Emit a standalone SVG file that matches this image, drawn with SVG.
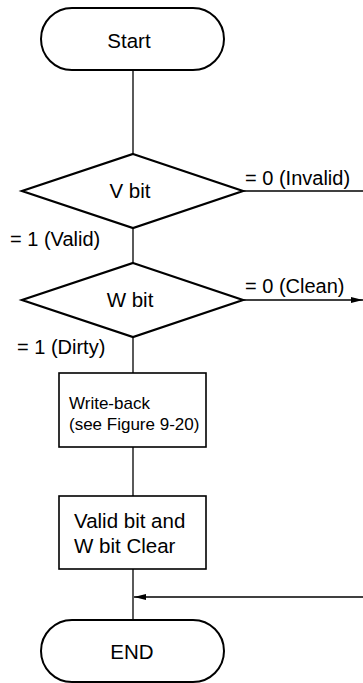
<svg xmlns="http://www.w3.org/2000/svg" width="363" height="683" viewBox="0 0 363 683">
<style>
text{font-family:"Liberation Sans",Arial,sans-serif;font-size:20.5px;fill:#000}
.c{text-anchor:middle}
.lb{font-size:20px}
.sm{font-size:17px}
.term{fill:#fff;stroke:#000;stroke-width:2}
.dia{fill:#fff;stroke:#000;stroke-width:2.2;stroke-linejoin:miter}
.box{fill:#fff;stroke:#000;stroke-width:1.6}
.ln{stroke:#000;stroke-width:1.3;fill:none}
</style>
<defs>
<marker id="ah" viewBox="0 0 12 6" refX="12" refY="3" markerWidth="12" markerHeight="6" markerUnits="userSpaceOnUse" orient="auto">
<path d="M0,0 L12,3 L0,6 Z" fill="#000"/>
</marker>
</defs>
<g id="connectors">
<line class="ln" x1="133" y1="70" x2="133" y2="154"/>
<line class="ln" x1="243" y1="191" x2="363" y2="191"/>
<line class="ln" x1="133" y1="228" x2="133" y2="263"/>
<line class="ln" x1="243" y1="300" x2="363" y2="300" marker-end="url(#ah)"/>
<line class="ln" x1="133" y1="337" x2="133" y2="373"/>
<line class="ln" x1="133" y1="447" x2="133" y2="496"/>
<line class="ln" x1="133" y1="569" x2="133" y2="620"/>
<line class="ln" x1="363" y1="597" x2="134" y2="597" marker-end="url(#ah)"/>
<text class="lb" x="245" y="185">= 0 (Invalid)</text>
<text class="lb" x="10" y="246">= 1 (Valid)</text>
<text class="lb" x="245" y="293">= 0 (Clean)</text>
<text class="lb" x="17" y="354">= 1 (Dirty)</text>
</g>
<g id="start">
<rect class="term" x="41" y="8" width="183" height="62" rx="31"/>
<text class="c" x="129" y="48">Start</text>
</g>
<g id="vbit">
<polygon class="dia" points="133,154 243,191 133,228 22,191"/>
<text class="c" x="130" y="198">V bit</text>
</g>
<g id="wbit">
<polygon class="dia" points="133,263 243,300 133,337 22,300"/>
<text class="c" x="130" y="307">W bit</text>
</g>
<g id="writeback">
<rect class="box" x="59" y="373" width="147" height="74"/>
<text class="sm" x="69" y="409">Write-back</text>
<text class="sm" x="69" y="430">(see Figure 9-20)</text>
</g>
<g id="clear">
<rect class="box" x="59" y="496" width="147" height="73"/>
<text x="74" y="528">Valid bit and</text>
<text x="74" y="553">W bit Clear</text>
</g>
<g id="end">
<rect class="term" x="41" y="620" width="183" height="62" rx="31"/>
<text class="c" x="132" y="659">END</text>
</g>
</svg>
